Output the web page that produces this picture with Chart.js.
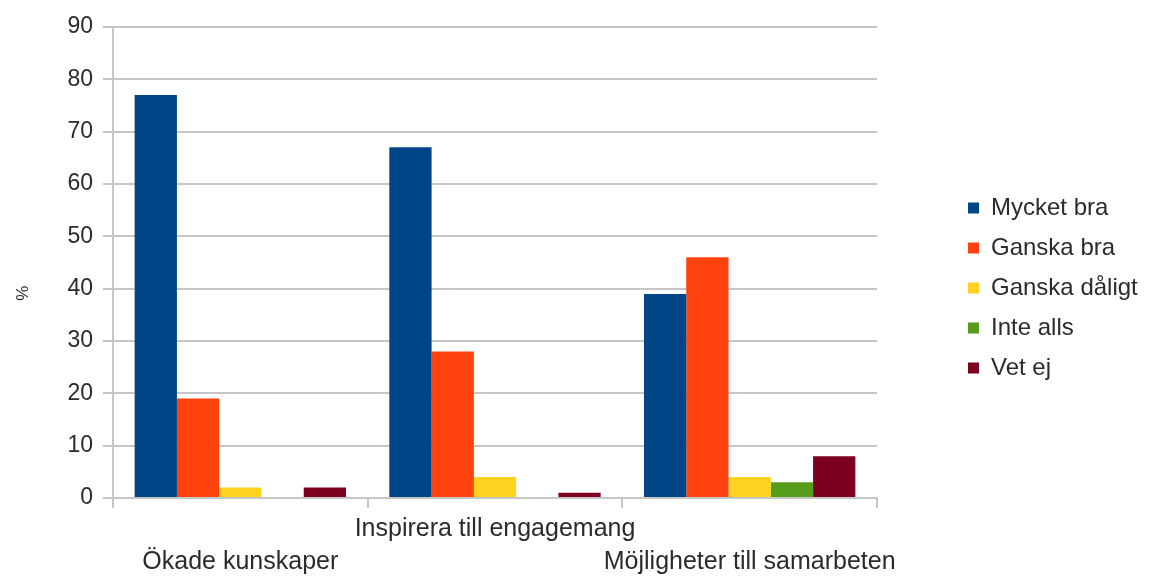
<!DOCTYPE html>
<html>
<head>
<meta charset="utf-8">
<script src="https://cdn.jsdelivr.net/npm/chart.js@4/dist/chart.umd.min.js"></script>
<style>
  html, body { margin: 0; padding: 0; background: #fff; }
  #wrap { width: 1156px; height: 577px; position: relative; }
</style>
</head>
<body>
<div id="wrap"><canvas id="chart"></canvas></div>
<script>
// Categories (staggered on two rows like the original)
const categories = ["Ökade kunskaper", "Inspirera till engagemang", "Möjligheter till samarbeten"];
const categoryRow = [1, 0, 1];

// Answer series, in %
const seriesNames = ["Mycket bra", "Ganska bra", "Ganska dåligt", "Inte alls", "Vet ej"];
const mycketBra = [77, 67, 39];
const ganskaBra = [19, 28, 46];
const ganskaDaligt = [2, 4, 4];
const inteAlls = [0, 0, 3];
const vetEj = [2, 1, 8];

const yTicks = [0, 10, 20, 30, 40, 50, 60, 70, 80, 90];

const colors = ["#004586", "#ff420e", "#ffd320", "#579d1c", "#7e0021"];
const gridColor = "#c6c6c6";
const textColor = "#2b2b2b";
const fontFamily = "'Liberation Sans', Arial, sans-serif";

// two-line labels so the middle one sits on the upper row
const labels = categories.map((c, i) => categoryRow[i] === 0 ? [c, " "] : [" ", c]);

const seriesData = [mycketBra, ganskaBra, ganskaDaligt, inteAlls, vetEj];

// legend sits further right (and a bit higher) than Chart.js would place it
const legendSpacer = {
  id: "legendSpacer",
  beforeLayout(chart) {
    const legend = chart.legend;
    if (legend && !legend._spaced) {
      const fit = legend.fit;
      legend.fit = function () {
        fit.call(this);
        this.width = 279;
      };
      legend._spaced = true;
    }
  },
  afterLayout(chart) {
    const legend = chart.legend;
    legend.left += 75;
    legend.right += 75;
    legend.top -= 14;
    legend.bottom -= 14;
  }
};

const ctx = document.getElementById("chart").getContext("2d");
new Chart(ctx, {
  type: "bar",
  data: {
    labels: labels,
    datasets: seriesNames.map((name, i) => ({
      label: name,
      data: seriesData[i],
      backgroundColor: colors[i],
      borderWidth: 0,
      categoryPercentage: 0.83,
      barPercentage: 1.0
    }))
  },
  options: {
    responsive: true,
    maintainAspectRatio: false,
    animation: false,
    layout: { padding: { top: 27, right: 0, bottom: 0, left: 0 } },
    plugins: {
      legend: {
        position: "right",
        align: "center",
        labels: {
          boxWidth: 11,
          boxHeight: 11,
          padding: 16,
          color: textColor,
          font: { family: fontFamily, size: 24 }
        }
      },
      tooltip: { enabled: false }
    },
    scales: {
      x: {
        grid: {
          offset: true,
          drawOnChartArea: true,
          color: (c) => c.index === categories.length ? gridColor : "rgba(0,0,0,0)",
          tickColor: gridColor,
          tickLength: 10,
          lineWidth: 2
        },
        border: { display: true, color: gridColor, width: 2 },
        ticks: {
          color: textColor,
          padding: 5,
          maxRotation: 0,
          autoSkip: false,
          font: { family: fontFamily, size: 25, lineHeight: 1.3 }
        },
        afterFit(scale) {
          scale.height = 79;
          scale.paddingLeft = 0;
          scale.paddingRight = 0;
        }
      },
      y: {
        min: 0,
        max: 90,
        afterBuildTicks(scale) {
          scale.ticks = yTicks.map(v => ({ value: v }));
        },
        grid: {
          color: gridColor,
          tickColor: gridColor,
          tickLength: 10,
          lineWidth: 2
        },
        border: { display: true, color: gridColor, width: 2 },
        ticks: {
          color: textColor,
          padding: 10,
          font: { family: fontFamily, size: 23 }
        },
        title: {
          display: true,
          // trailing spaces push the sign a little below the axis middle
          text: "%" + "\u00a0".repeat(13),
          color: textColor,
          padding: { top: 13, bottom: 0 },
          font: { family: fontFamily, size: 17 }
        },
        afterFit(scale) {
          scale.width = 113;
        }
      }
    }
  },
  plugins: [legendSpacer]
});
</script>
</body>
</html>
